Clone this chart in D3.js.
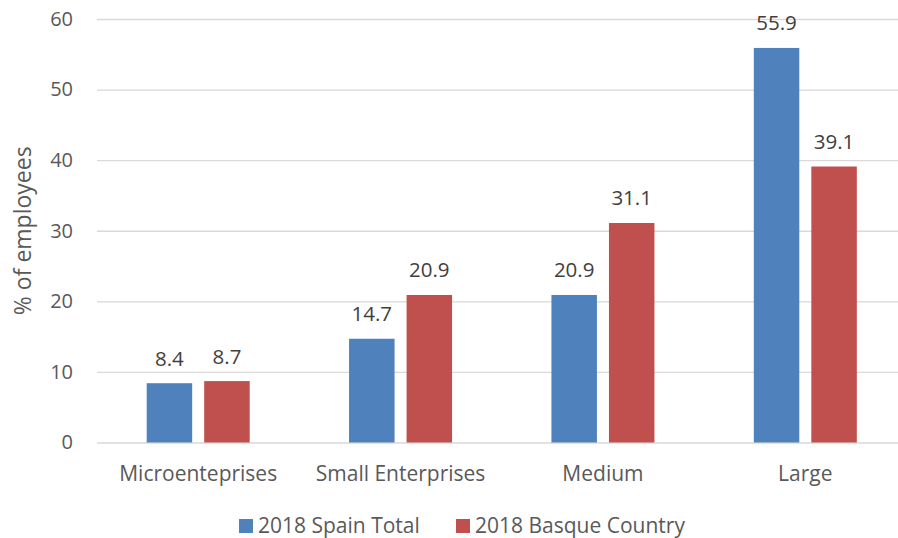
<!DOCTYPE html>
<html>
<head>
<meta charset="utf-8">
<script src="https://cdn.jsdelivr.net/npm/d3@7"></script>
<style>
  html, body { margin: 0; padding: 0; background: #fff; }
  svg { display: block; font-family: "Open Sans", sans-serif; }
</style>
</head>
<body>
<svg id="chart" width="898" height="538"></svg>
<script>
// Share of employees by company size, 2018
const categories = ["Microenteprises", "Small Enterprises", "Medium", "Large"];
const seriesNames = ["2018 Spain Total", "2018 Basque Country"];
const spainTotal = [8.4, 14.7, 20.9, 55.9];
const basqueCountry = [8.7, 20.9, 31.1, 39.1];
const yTicks = [0, 10, 20, 30, 40, 50, 60];
const seriesColors = ["#4F81BD", "#C0504D"];

const seriesValues = [spainTotal, basqueCountry];
const rows = categories.map((c, i) => ({
  category: c,
  values: seriesNames.map((s, k) => ({ series: s, value: seriesValues[k][i] }))
}));

const svg = d3.select("#chart");
const plot = { left: 97, right: 906.5, top: 19, bottom: 442.5 };

const x0 = d3.scaleBand()
  .domain(categories)
  .range([plot.left, plot.right])
  .paddingInner(0.491)
  .paddingOuter(0.2455);

const x1 = d3.scaleBand()
  .domain(seriesNames)
  .range([0, x0.bandwidth()])
  .paddingInner(0.209);

const y = d3.scaleLinear().domain([0, 60]).range([plot.bottom, plot.top]);
const color = d3.scaleOrdinal().domain(seriesNames).range(seriesColors);

// Horizontal gridlines and tick labels
const yAxis = d3.axisLeft(y)
  .tickValues(yTicks)
  .tickSize(-(plot.right - plot.left))
  .tickPadding(24);

const gy = svg.append("g")
  .attr("transform", `translate(${plot.left},0)`)
  .call(yAxis);
gy.select(".domain").remove();
gy.selectAll(".tick line").attr("stroke", "#D9D9D9").attr("stroke-width", 1.3);
gy.selectAll(".tick text")
  .attr("fill", "#595959")
  .style("font-size", "20px")
  .style("font-family", "'Open Sans', sans-serif");

// Category labels
const gx = svg.append("g")
  .attr("transform", `translate(0,${plot.bottom})`)
  .call(d3.axisBottom(x0).tickSize(0).tickPadding(0));
gx.select(".domain").remove();
gx.selectAll(".tick text")
  .attr("fill", "#595959")
  .attr("dy", null)
  .attr("y", 38.5)
  .style("font-size", "21px")
  .style("font-family", "'Open Sans', sans-serif");

// Bars
const groups = svg.append("g").selectAll("g")
  .data(rows)
  .join("g")
  .attr("transform", d => `translate(${x0(d.category)},0)`);

groups.selectAll("rect")
  .data(d => d.values)
  .join("rect")
  .attr("x", d => x1(d.series))
  .attr("width", x1.bandwidth())
  .attr("y", d => y(d.value))
  .attr("height", d => y(0) - y(d.value))
  .attr("fill", d => color(d.series));

// Value labels above bars
groups.selectAll("text.value")
  .data(d => d.values)
  .join("text")
  .attr("class", "value")
  .attr("x", d => x1(d.series) + x1.bandwidth() / 2)
  .attr("y", d => y(d.value) - 17.5)
  .attr("text-anchor", "middle")
  .attr("fill", "#404040")
  .style("font-size", "20.5px")
  .text(d => d3.format(".1f")(d.value));

// Y axis title
svg.append("text")
  .attr("transform", `translate(31,${(plot.top + plot.bottom) / 2}) rotate(-90)`)
  .attr("text-anchor", "middle")
  .attr("fill", "#595959")
  .style("font-size", "23px")
  .text("% of employees");

// Legend
const legendX = [239, 456];
const legend = svg.append("g").selectAll("g")
  .data(seriesNames)
  .join("g")
  .attr("transform", (d, i) => `translate(${legendX[i]},519)`);
legend.append("rect")
  .attr("width", 14).attr("height", 14)
  .attr("fill", d => color(d));
legend.append("text")
  .attr("x", 19).attr("y", 14)
  .attr("fill", "#595959")
  .style("font-size", "21px")
  .text(d => d);
</script>
</body>
</html>
